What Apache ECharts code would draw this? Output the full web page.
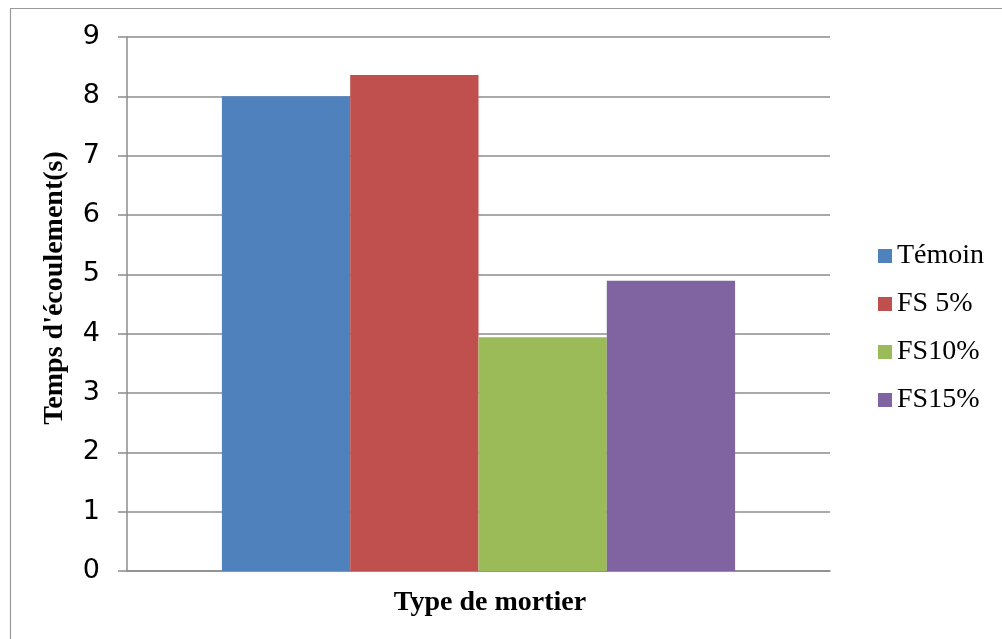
<!DOCTYPE html>
<html>
<head>
<meta charset="utf-8">
<script src="https://cdn.jsdelivr.net/npm/echarts@6/dist/echarts.min.js"></script>
<style>
html,body{margin:0;padding:0;background:#fff;}
#chart{width:1002px;height:639px;}
</style>
</head>
<body>
<div id="chart"></div>
<script>
var categories = ['Type de mortier'];
var seriesNames = ['Témoin', 'FS 5%', 'FS10%', 'FS15%'];
var temoin = [8.0];
var fs5 = [8.36];
var fs10 = [3.94];
var fs15 = [4.89];
var yTicks = [0, 1, 2, 3, 4, 5, 6, 7, 8, 9];
var colors = ['#4F81BD', '#C0504D', '#9BBB59', '#8064A2'];
var xTitle = 'Type de mortier';
var yTitle = "Temps d'écoulement(s)";

var values = [temoin, fs5, fs10, fs15];
var chart = echarts.init(document.getElementById('chart'), null, {renderer: 'canvas'});
var gridColor = '#8c8c8c';
var option = {
  animation: false,
  backgroundColor: '#fff',
  grid: {left: 127, right: 172, top: 37, bottom: 68, containLabel: false},
  legend: {
    orient: 'vertical',
    left: 873,
    top: 237,
    itemWidth: 14,
    itemHeight: 14,
    itemGap: 20,
    icon: 'rect',
    data: seriesNames,
    textStyle: {fontFamily: 'Liberation Serif', fontSize: 28, color: '#000', lineHeight: 28}
  },
  xAxis: {
    type: 'category',
    data: categories,
    axisLine: {show: true, lineStyle: {color: gridColor, width: 1.5}},
    axisTick: {show: false},
    axisLabel: {show: false}
  },
  yAxis: {
    type: 'value',
    min: yTicks[0],
    max: yTicks[yTicks.length - 1],
    interval: 1,
    axisLine: {show: true, lineStyle: {color: gridColor, width: 1.5}},
    axisTick: {show: true, length: 9, lineStyle: {color: gridColor, width: 1.5}},
    axisLabel: {margin: 27, fontFamily: 'DejaVu Sans', fontSize: 27, color: '#000'},
    splitLine: {show: true, lineStyle: {color: gridColor, width: 1.5}}
  },
  series: seriesNames.map(function (n, i) {
    return {
      name: n,
      type: 'bar',
      data: values[i],
      barGap: '0%',
      barCategoryGap: '27%',
      itemStyle: {color: colors[i]}
    };
  }),
  graphic: [
    {type: 'rect', left: 8, top: 6, shape: {width: 1100, height: 700}, style: {fill: 'none', stroke: '#999', lineWidth: 1.2}, silent: true},
    {type: 'text', x: 490, y: 603, style: {text: xTitle, fontFamily: 'Liberation Serif', fontWeight: 'bold', fontSize: 28, fill: '#000', textAlign: 'center', textVerticalAlign: 'middle'}},
    {type: 'text', x: 55, y: 288, rotation: Math.PI / 2, style: {text: yTitle, fontFamily: 'Liberation Serif', fontWeight: 'bold', fontSize: 28, fill: '#000', textAlign: 'center', textVerticalAlign: 'middle'}}
  ]
};
chart.setOption(option);
</script>
</body>
</html>
